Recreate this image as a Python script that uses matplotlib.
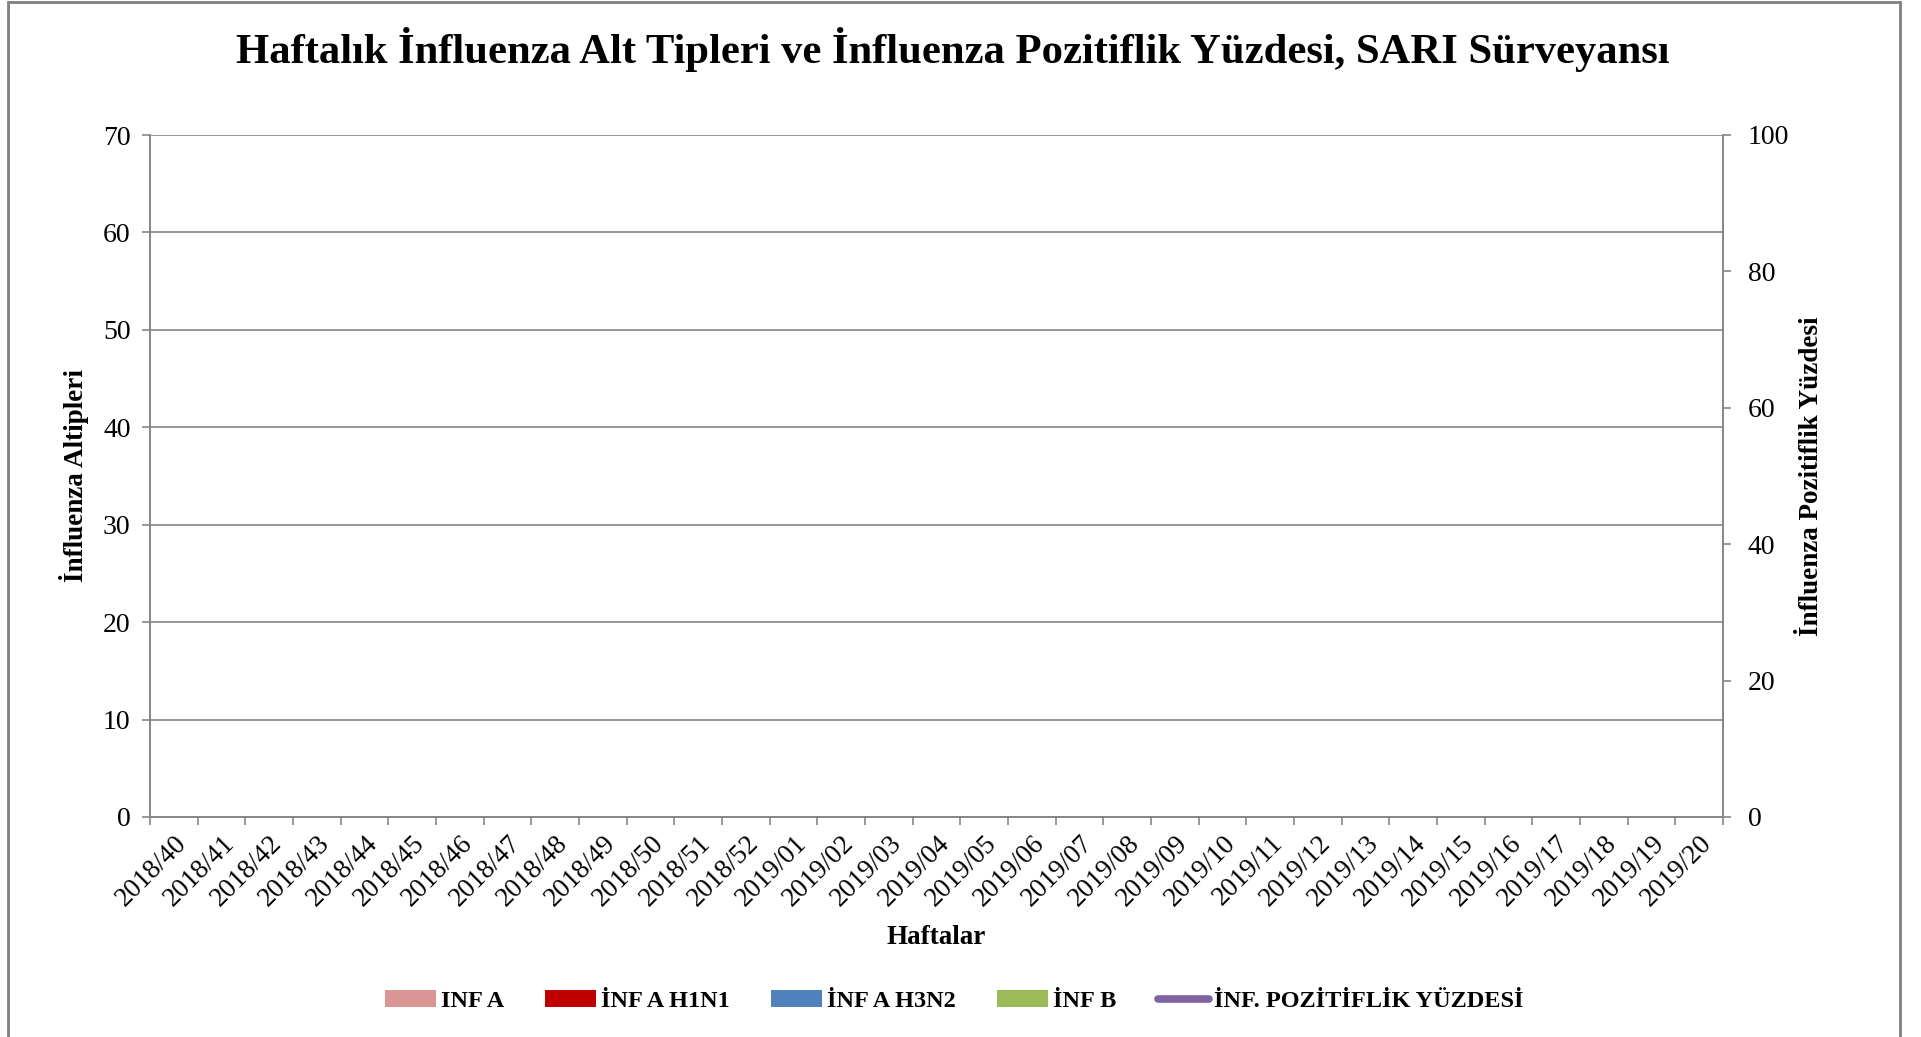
import matplotlib
matplotlib.use("Agg")
import matplotlib.pyplot as plt
import numpy as np
from matplotlib.patches import Rectangle, Patch
from matplotlib.lines import Line2D

plt.rcParams['font.family'] = ['Liberation Serif', 'DejaVu Serif']

weeks = [f"2018/{w}" for w in range(40, 53)] + [f"2019/{w:02d}" for w in range(1, 21)]
# No data reported in the reference chart: all values missing
inf_a = [None] * len(weeks)
inf_a_h1n1 = [None] * len(weeks)
inf_a_h3n2 = [None] * len(weeks)
inf_b = [None] * len(weeks)
pozitiflik = [None] * len(weeks)

series_names = ["INF A", "İNF A H1N1", "İNF A H3N2", "İNF B"]
line_name = "İNF. POZİTİFLİK YÜZDESİ"
colors = ["#D99694", "#C00000", "#4F81BD", "#9BBB59"]
line_color = "#8064A2"
grid_color = "#868686"

W, H = 1921, 1037
fig = plt.figure(figsize=(W / 100, H / 100), dpi=100)
left, right, top, bottom = 150, 1723, 135, 817
ax = fig.add_axes([left / W, 1 - bottom / H, (right - left) / W, (bottom - top) / H])
ax2 = ax.twinx()

x = np.arange(len(weeks))
vals = [np.array([np.nan if v is None else v for v in s], dtype=float)
        for s in (inf_a, inf_a_h1n1, inf_a_h3n2, inf_b)]
bw = 0.8 / 4
for i, (v, c) in enumerate(zip(vals, colors)):
    ax.bar(x - 0.4 + bw * (i + 0.5), v, width=bw, color=c)
pz = np.array([np.nan if v is None else v for v in pozitiflik], dtype=float)
ax2.plot(x, pz, color=line_color, lw=3)

ax.set_xlim(-0.5, len(weeks) - 0.5)
ax.set_ylim(0, 70)
ax2.set_ylim(0, 100)
ax.set_yticks(np.arange(0, 71, 10))
ax2.set_yticks(np.arange(0, 101, 20))
ax.yaxis.grid(True, color=grid_color, lw=1.2)
ax.set_axisbelow(True)

ax.set_xticks(x)
ax.set_xticklabels(weeks, rotation=45, ha='right', va='top', rotation_mode='anchor', fontsize=19.5)
ax.tick_params(axis='x', which='major', length=0, pad=10)
ax.set_xticks(np.arange(-0.5, len(weeks)), minor=True)
ax.tick_params(axis='x', which='minor', length=6, color=grid_color, width=1.2)

ax.tick_params(axis='y', labelsize=20, length=6, color=grid_color, width=1.2, pad=8)
ax2.tick_params(axis='y', labelsize=20, length=6, color=grid_color, width=1.2, pad=12)

for a in (ax, ax2):
    a.spines['top'].set_visible(False)
    for s in ('left', 'right', 'bottom'):
        a.spines[s].set_color(grid_color)
        a.spines[s].set_linewidth(1.2)

ax.set_ylabel("İnfluenza Altipleri", fontsize=19.5, fontweight='bold')
ax.yaxis.set_label_coords((89 - left) / (right - left), 0.5)
ax2.set_ylabel("İnfluenza Pozitiflik Yüzdesi", fontsize=19.5, fontweight='bold')
ax2.yaxis.set_label_coords((1799 - left) / (right - left), 0.5)

fig.text(936 / W, 1 - 938 / H, "Haftalar", ha='center', va='center', fontsize=19.5, fontweight='bold')
fig.text(953 / W, 1 - 49 / H, "Haftalık İnfluenza Alt Tipleri ve İnfluenza Pozitiflik Yüzdesi, SARI Sürveyansı",
         ha='center', va='center', fontsize=30.7, fontweight='bold')

handles = [Patch(facecolor=c, edgecolor='none') for c in colors]
handles.append(Line2D([0], [0], color=line_color, lw=5.5, solid_capstyle='round'))
leg = fig.legend(handles, series_names + [line_name], loc='center',
                 bbox_to_anchor=(954 / W, 1 - 1001 / H), ncol=5, frameon=False,
                 prop={'weight': 'bold', 'size': 17.5}, handlelength=2.1, handleheight=0.72,
                 handletextpad=0.2, columnspacing=1.7)

fig.add_artist(Rectangle((8 / W, -0.05), (1900 - 8) / W, 1 - 2 / H + 0.05, transform=fig.transFigure,
                         fill=False, edgecolor='#7F7F7F', lw=2, clip_on=False))

fig.savefig("out.png", dpi=100)
